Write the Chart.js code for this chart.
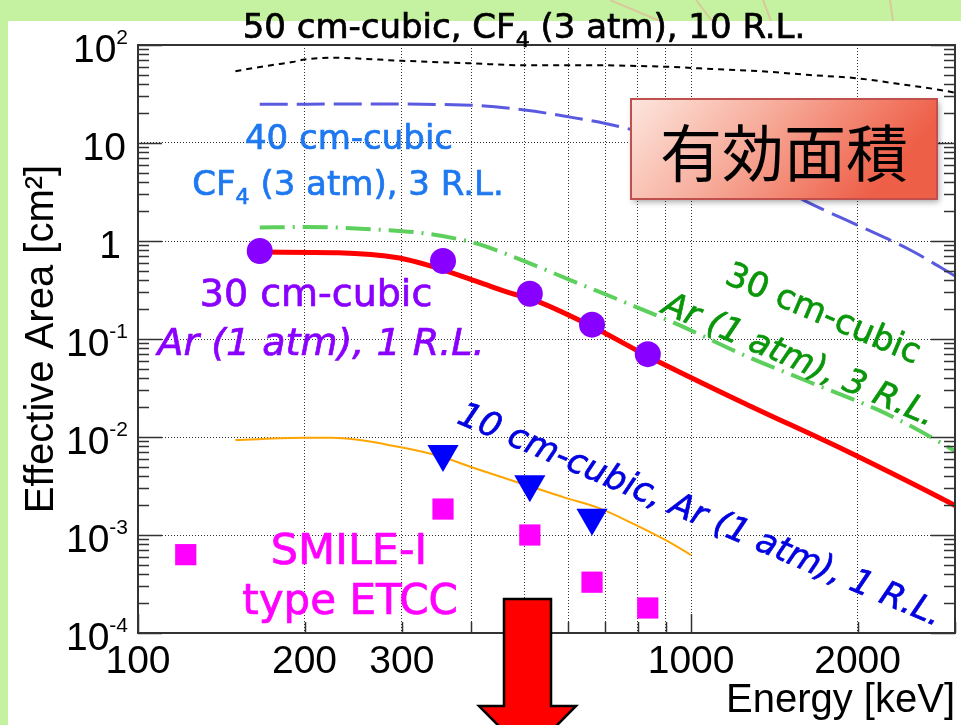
<!DOCTYPE html>
<html>
<head>
<meta charset="utf-8">
<title>Effective Area</title>
<script src="https://cdn.jsdelivr.net/npm/chart.js@4.4.1/dist/chart.umd.min.js"></script>
<style>
  html, body { margin: 0; padding: 0; background: #c5f2a0; }
  #areaChart { display: block; }
</style>
</head>
<body>
<canvas id="areaChart" width="961" height="725"></canvas>
<script>
// values (energy in keV, effective area in cm^2)
const ENERGY_CF4_50 = [150, 161, 175, 190, 200, 225, 300, 400, 500, 600, 700, 800, 900, 1090, 1340, 1640, 2000, 2330, 2870, 3000];
const AREA_CF4_50   = [54, 58, 62.5, 67, 71, 74, 69, 65, 62, 62, 62, 61, 60, 57, 54, 49.4, 45.7, 40.7, 34.2, 32.5];

const ENERGY_CF4_40 = [166, 250, 400, 500, 600, 700, 800, 1000, 1250, 1600, 2000, 2500, 3000];
const AREA_CF4_40   = [24.8, 25, 24.3, 21.7, 18.5, 15.8, 13.2, 9.0, 5.6, 2.6, 1.45, 0.80, 0.44];

const ENERGY_AR30_3RL = [166, 200, 276, 336, 413, 474, 625, 769, 948, 1250, 1644, 2173, 2490, 3000];
const AREA_AR30_3RL   = [1.37, 1.39, 1.30, 1.18, 0.93, 0.70, 0.37, 0.23, 0.14, 0.068, 0.036, 0.019, 0.013, 0.0072];

const ENERGY_AR30_SIM = [170, 230, 297, 340, 413, 475, 511, 661, 830, 1250, 1890, 2820, 3000];
const AREA_AR30_SIM   = [0.77, 0.76, 0.67, 0.55, 0.38, 0.29, 0.26, 0.135, 0.068, 0.022, 0.0074, 0.0024, 0.0020];

const ENERGY_AR10_SIM = [150, 200, 224, 297, 355, 400, 503, 593, 680, 780, 898, 1000];
const AREA_AR10_SIM   = [0.0093, 0.0098, 0.0098, 0.0079, 0.00625, 0.00494, 0.00324, 0.00239, 0.00189, 0.00133, 0.00089, 0.000625];

const ENERGY_AR30_MEAS = [166, 356, 511, 662, 835];
const AREA_AR30_MEAS   = [0.79, 0.625, 0.29, 0.14, 0.07];

const ENERGY_AR10_MEAS = [356, 511, 662];
const AREA_AR10_MEAS   = [0.0067, 0.0033, 0.0015];

const ENERGY_SMILE = [122, 356, 511, 662, 835];
const AREA_SMILE   = [0.00063, 0.00184, 0.00100, 0.00033, 0.00018];

// axes
const X_TICKS = [100, 200, 300, 400, 500, 600, 700, 800, 900, 1000, 2000, 3000];
const X_TICK_LABELS = [100, 200, 300, 1000, 2000];
const X_GRID = [200, 300, 400, 500, 600, 700, 800, 900, 1000, 2000];
const Y_TICK_EXPONENTS = [-4, -3, -2, -1, 0, 1, 2];

const AXIS_FONT = '"Liberation Sans", Arial, sans-serif';
const NOTE_FONT = '"DejaVu Sans", sans-serif';

const BLUE = '#1e78f0';
const PURPLE = '#8a00ff';
const GREEN_TEXT = '#0a960a';
const DARK_BLUE = '#0000e0';
const MAGENTA = '#ff00ff';

// hand-placed labels of the figure (pixel layout)
const NOTES = [
    { parts: [['50 cm-cubic, CF'], ['4', true], [' (3 atm), 10 R.L.']], x: 524, y: 26, size: 34, color: '#000' },
    { parts: [['40 cm-cubic']], x: 349, y: 137, size: 34, color: BLUE },
    { parts: [['CF'], ['4', true], [' (3 atm), 3 R.L.']], x: 348, y: 183, size: 34, color: BLUE },
    { parts: [['30 cm-cubic']], x: 316, y: 292, size: 38, color: PURPLE },
    { parts: [['Ar (1 atm), 1 R.L.']], x: 321, y: 341, size: 38, color: PURPLE, italic: true },
    { parts: [['30 cm-cubic']], x: 824, y: 312, size: 34, color: GREEN_TEXT, angle: 23 },
    { parts: [['Ar (1 atm), 3 R.L.']], x: 800, y: 358, size: 34, color: GREEN_TEXT, angle: 23, italic: true },
    { parts: [['10 cm-cubic, Ar (1 atm), 1 R.L.']], x: 701, y: 513, size: 34, color: DARK_BLUE, angle: 23, italic: true },
    { parts: [['SMILE-I']], x: 349, y: 548, size: 43, color: MAGENTA },
    { parts: [['type ETCC']], x: 350, y: 599, size: 42, color: MAGENTA }
];

let oChart = {
    init: function() {
        this.oCanvas = document.getElementById('areaChart').getContext('2d');
        this.drawChart();
    },
    /**
     * Zips two arrays into {x, y} points
     */
    points: function(aX, aY) {
        return aX.map(function(x, i) { return { x: x, y: aY[i] }; });
    },
    lineSet: function(aX, aY, sColor, iWidth, aDash) {
        return {
            data: this.points(aX, aY),
            borderColor: sColor,
            borderWidth: iWidth,
            borderDash: aDash || [],
            pointRadius: 0,
            cubicInterpolationMode: 'monotone',
            fill: false
        };
    },
    markerSet: function(aX, aY, sColor, sStyle, iRadius, iRotation) {
        return {
            data: this.points(aX, aY),
            showLine: false,
            pointStyle: sStyle,
            pointRadius: iRadius,
            pointRotation: iRotation || 0,
            pointBackgroundColor: sColor,
            pointBorderWidth: 0,
            borderColor: sColor
        };
    },
    buildData: function() {
        // first datasets end up on top
        return {
            datasets: [
                this.markerSet(ENERGY_AR30_MEAS, AREA_AR30_MEAS, '#8800ff', 'circle', 13),
                this.markerSet(ENERGY_AR10_MEAS, AREA_AR10_MEAS, '#0000ff', 'triangle', 18, 180),
                this.markerSet(ENERGY_SMILE, AREA_SMILE, '#ff00ff', 'rect', 15),
                this.lineSet(ENERGY_AR30_SIM, AREA_AR30_SIM, '#ff0000', 5),
                this.lineSet(ENERGY_AR10_SIM, AREA_AR10_SIM, '#ffa500', 2),
                this.lineSet(ENERGY_AR30_3RL, AREA_AR30_3RL, '#5ccf5c', 4, [25, 8, 2, 8]),
                this.lineSet(ENERGY_CF4_40, AREA_CF4_40, '#5a5ae0', 3, [28, 9]),
                this.lineSet(ENERGY_CF4_50, AREA_CF4_50, '#000000', 2, [6, 5])
            ]
        };
    },
    /**
     * Text with optional subscript parts, centred on (x, y), optionally rotated
     */
    drawNote: function(ctx, oNote) {
        const sStyle = oNote.italic ? 'italic ' : '';
        const sBase = sStyle + oNote.size + 'px ' + NOTE_FONT;
        const sSmall = sStyle + Math.round(oNote.size * 0.65) + 'px ' + NOTE_FONT;
        ctx.save();
        ctx.translate(oNote.x, oNote.y);
        ctx.rotate((oNote.angle || 0) * Math.PI / 180);
        let fTotal = 0;
        oNote.parts.forEach(function(p) {
            ctx.font = p[1] ? sSmall : sBase;
            fTotal += ctx.measureText(p[0]).width;
        });
        let fX = -fTotal / 2;
        const fBase = oNote.size * 0.365;
        ctx.fillStyle = oNote.color;
        ctx.strokeStyle = oNote.color;
        ctx.lineWidth = 0.7;
        ctx.textAlign = 'left';
        ctx.textBaseline = 'alphabetic';
        oNote.parts.forEach(function(p) {
            ctx.font = p[1] ? sSmall : sBase;
            const fY = fBase + (p[1] ? oNote.size * 0.25 : 0);
            ctx.fillText(p[0], fX, fY);
            ctx.strokeText(p[0], fX, fY);
            fX += ctx.measureText(p[0]).width;
        });
        ctx.restore();
    },
    drawFrame: function(chart) {
        const ctx = chart.ctx;
        const a = chart.chartArea;
        const oX = chart.scales.x;
        const oY = chart.scales.y;
        ctx.save();
        ctx.strokeStyle = '#333';
        ctx.lineWidth = 1.5;
        ctx.beginPath();
        Y_TICK_EXPONENTS.forEach(function(e) {
            for (let m = 1; m < 10; m++) {
                const v = m * Math.pow(10, e);
                if (v > oY.max * 1.001) break;
                const py = Math.round(oY.getPixelForValue(v)) + 0.5;
                const len = m === 1 ? 24 : 11;
                ctx.moveTo(a.left, py); ctx.lineTo(a.left + len, py);
                ctx.moveTo(a.right, py); ctx.lineTo(a.right - len, py);
            }
        });
        X_TICKS.forEach(function(v) {
            const px = Math.round(oX.getPixelForValue(v)) + 0.5;
            const len = (v === 100 || v === 1000) ? 19 : 11;
            ctx.moveTo(px, a.bottom); ctx.lineTo(px, a.bottom - len);
        });
        ctx.stroke();
        ctx.lineWidth = 2;
        ctx.strokeRect(a.left, a.top, a.right - a.left, a.bottom - a.top);
        ctx.restore();

        // y labels 10^n with raised exponent
        ctx.save();
        ctx.fillStyle = '#000';
        ctx.textBaseline = 'alphabetic';
        ctx.textAlign = 'left';
        Y_TICK_EXPONENTS.forEach(function(e) {
            const py = oY.getPixelForValue(Math.pow(10, e));
            const sBase = e === 0 ? '1' : '10';
            const sExp = (e === 0 || e === 1) ? '' : String(e);
            ctx.font = '21px ' + AXIS_FONT;
            const fExpW = ctx.measureText(sExp).width;
            ctx.font = '39px ' + AXIS_FONT;
            const fBaseW = ctx.measureText(sBase).width;
            const fRight = e === 0 ? 121 : (e === 1 ? 126 : 128);
            ctx.fillText(sBase, fRight - fExpW - fBaseW, py + 17);
            if (sExp) {
                ctx.font = '21px ' + AXIS_FONT;
                ctx.fillText(sExp, fRight - fExpW, py - 1);
            }
        });
        ctx.restore();
    },
    drawBadge: function(ctx) {
        const x = 631, y = 99, w = 306, h = 100;
        ctx.save();
        ctx.shadowColor = 'rgba(0,0,0,0.35)';
        ctx.shadowBlur = 6;
        ctx.shadowOffsetX = 2;
        ctx.shadowOffsetY = 3;
        const g = ctx.createLinearGradient(x, y, x + w * 0.6, y + h * 1.6);
        g.addColorStop(0, '#fde6de');
        g.addColorStop(0.45, '#f7ae9d');
        g.addColorStop(1, '#ee5f48');
        ctx.fillStyle = g;
        ctx.fillRect(x, y, w, h);
        ctx.shadowColor = 'rgba(0,0,0,0)';
        ctx.strokeStyle = '#c0504d';
        ctx.lineWidth = 2;
        ctx.strokeRect(x, y, w, h);
        ctx.fillStyle = '#000';
        ctx.font = '62px "Noto Sans CJK JP"';
        ctx.textAlign = 'center';
        ctx.textBaseline = 'middle';
        ctx.fillText('有効面積', x + w / 2, 153);
        ctx.restore();
    },
    drawArrow: function(ctx) {
        ctx.save();
        ctx.beginPath();
        ctx.moveTo(504, 599); ctx.lineTo(551, 599); ctx.lineTo(551, 706);
        ctx.lineTo(576, 706); ctx.lineTo(527.5, 755); ctx.lineTo(479, 706);
        ctx.lineTo(504, 706); ctx.closePath();
        ctx.fillStyle = '#ff0000';
        ctx.fill();
        ctx.lineWidth = 2.5;
        ctx.strokeStyle = '#000';
        ctx.stroke();
        ctx.restore();
    },
    decorations: {
        id: 'decorations',
        beforeDraw: function(chart) {
            const ctx = chart.ctx;
            ctx.save();
            ctx.fillStyle = '#c5f2a0';
            ctx.fillRect(0, 0, chart.width, chart.height);
            ctx.strokeStyle = '#d9c99a';
            ctx.lineWidth = 2;
            ctx.beginPath();
            ctx.moveTo(610, 0); ctx.lineTo(660, 21);
            ctx.moveTo(696, 0); ctx.lineTo(712, 21);
            ctx.moveTo(763, 0); ctx.lineTo(771, 21);
            ctx.moveTo(890, 0); ctx.lineTo(893, 21);
            ctx.stroke();
            ctx.fillStyle = '#ffffff';
            ctx.fillRect(8, 21, chart.width - 8, chart.height - 21);
            ctx.restore();
        },
        afterDraw: function(chart) {
            const ctx = chart.ctx;
            oChart.drawFrame(chart);
            NOTES.forEach(function(n) { oChart.drawNote(ctx, n); });
            oChart.drawBadge(ctx);
            oChart.drawArrow(ctx);
        }
    },
    drawChart: function() {
        return new Chart(this.oCanvas, {
            type: 'line',
            data: this.buildData(),
            options: {
                responsive: false,
                animation: false,
                layout: { autoPadding: false, padding: { top: 45, right: 6, left: 0, bottom: 0 } },
                plugins: { legend: { display: false }, tooltip: { enabled: false } },
                scales: {
                    x: {
                        type: 'logarithmic',
                        min: 100,
                        max: 3000,
                        afterBuildTicks: function(s) { s.ticks = X_TICKS.map(function(v) { return { value: v }; }); },
                        afterFit: function(s) { s.height = 92; },
                        grid: {
                            drawTicks: false,
                            lineWidth: 1,
                            color: function(c) {
                                return (c.tick && X_GRID.indexOf(c.tick.value) >= 0) ? '#333' : 'rgba(0,0,0,0)';
                            }
                        },
                        border: { display: false, dash: [1, 2] },
                        ticks: {
                            autoSkip: false,
                            maxRotation: 0,
                            minRotation: 0,
                            padding: 6,
                            color: '#000',
                            font: { family: AXIS_FONT, size: 39 },
                            callback: function(v) { return X_TICK_LABELS.indexOf(v) >= 0 ? String(v) : ''; }
                        },
                        title: {
                            display: true,
                            text: 'Energy [keV]',
                            align: 'end',
                            color: '#000',
                            font: { family: AXIS_FONT, size: 40 },
                            padding: { top: 0, bottom: 0 }
                        }
                    },
                    y: {
                        type: 'logarithmic',
                        min: 1e-4,
                        max: 100,
                        afterBuildTicks: function(s) {
                            s.ticks = Y_TICK_EXPONENTS.map(function(e) { return { value: Math.pow(10, e) }; });
                        },
                        afterFit: function(s) { s.width = 138; },
                        grid: {
                            drawTicks: false,
                            lineWidth: 1,
                            color: function(c) {
                                const v = c.tick ? c.tick.value : 0;
                                return (v > 1.5e-4 && v < 50) ? '#333' : 'rgba(0,0,0,0)';
                            }
                        },
                        border: { display: false, dash: [1, 2] },
                        ticks: { display: false },
                        title: {
                            display: true,
                            text: 'Effective Area [cm²]',
                            color: '#000',
                            font: { family: AXIS_FONT, size: 40 },
                            padding: { top: 18, bottom: 0 }
                        }
                    }
                }
            },
            plugins: [this.decorations]
        });
    }
};

oChart.init();
</script>
</body>
</html>
